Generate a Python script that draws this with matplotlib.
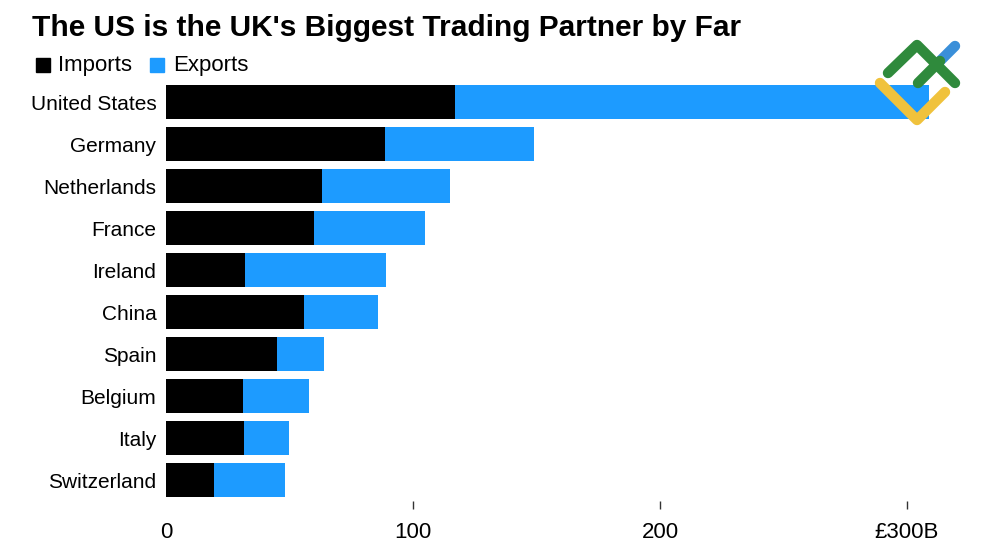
#!/usr/bin/env python3
"""
UK trade partners: stacked imports / exports bars.
"""
import matplotlib.pyplot as plt
from matplotlib.lines import Line2D
from matplotlib.patches import Rectangle

countries = ['United States', 'Germany', 'Netherlands', 'France', 'Ireland',
             'China', 'Spain', 'Belgium', 'Italy', 'Switzerland']
imports = [117, 88.5, 63, 60, 32, 56, 45, 31, 31.5, 19.5]
exports = [192, 60.5, 52, 45, 57, 30, 19, 27, 18.5, 28.5]
xticks = [0, 100, 200, 300]
xtick_labels = ['0', '100', '200', '£300B']

BLACK = '#000000'
BLUE = '#1d9bff'
FONT = 'Liberation Sans'


def px(x, y):
    return x / 1000, 1 - y / 545


def create_chart():
    fig = plt.figure(figsize=(10, 5.45), dpi=100)
    ax = fig.add_axes([0.166, 1 - 501 / 545, 0.82, 420 / 545])

    ypos = list(range(len(countries)))
    ax.barh(ypos, imports, height=0.8, color=BLACK, linewidth=0)
    ax.barh(ypos, exports, left=imports, height=0.8, color=BLUE, linewidth=0)

    ax.set_ylim(len(countries) - 0.5, -0.5)
    ax.set_xlim(0, 332)

    for s in ax.spines.values():
        s.set_visible(False)

    ax.set_yticks(ypos)
    ax.set_yticklabels(countries, fontsize=15, family=FONT, va='center_baseline')
    ax.tick_params(axis='y', length=0, pad=7)

    ax.set_xticks(xticks)
    ax.set_xticklabels(xtick_labels, fontsize=16, family=FONT)
    ax.tick_params(axis='x', length=6, width=1, color='#333333', pad=9)
    ax.xaxis.get_major_ticks()[0].tick1line.set_visible(False)

    # Title and legend
    fig.text(*px(32, 28), "The US is the UK's Biggest Trading Partner by Far",
             fontsize=21.5, fontweight='bold', family=FONT, va='center', ha='left')
    fig.add_artist(Rectangle(px(36, 72), 14 / 1000, 14 / 545,
                             transform=fig.transFigure, color=BLACK))
    fig.text(*px(58, 65), 'Imports', fontsize=16, family=FONT, va='center')
    fig.add_artist(Rectangle(px(150, 72), 14 / 1000, 14 / 545,
                             transform=fig.transFigure, color=BLUE))
    fig.text(*px(173, 65), 'Exports', fontsize=16, family=FONT, va='center')

    # Logo in the corner
    strokes = [
        ([936, 955], [65, 46], '#3a8fd9'),
        ([888, 917, 955], [73, 45, 83], '#2f8a3c'),
        ([918, 940], [83, 61], '#2f8a3c'),
        ([880, 917, 945], [83, 120, 92], '#f0c23c'),
    ]
    for xs, ys, c in strokes:
        pts = [px(x, y) for x, y in zip(xs, ys)]
        fig.add_artist(Line2D([p[0] for p in pts], [p[1] for p in pts],
                              transform=fig.transFigure, color=c, lw=7.5,
                              solid_capstyle='round', solid_joinstyle='round',
                              zorder=10))

    plt.savefig('out.png', dpi=100)


if __name__ == '__main__':
    create_chart()
